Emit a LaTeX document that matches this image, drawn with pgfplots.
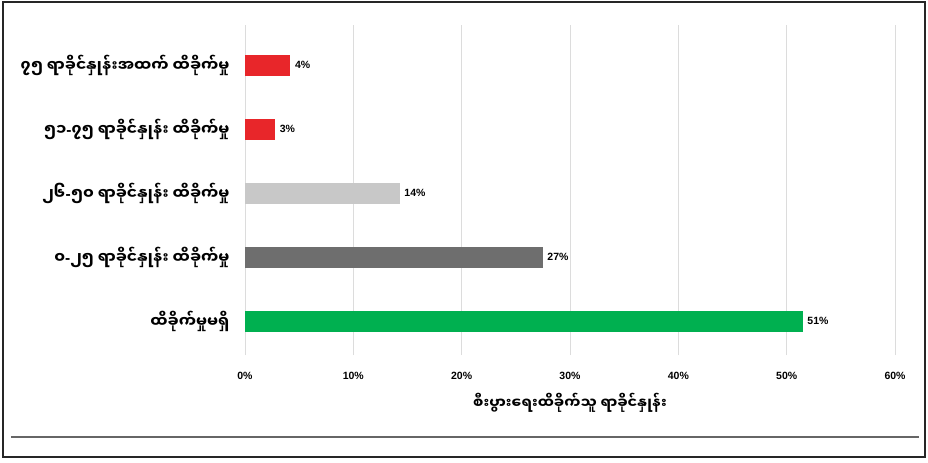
\documentclass[border=0pt]{standalone}
\usepackage{pgfplots}
\pgfplotsset{compat=1.18}
\usepackage{fontspec}
\setmainfont{Liberation Sans}
\newfontfamily\mm[Script=Myanmar]{Noto Sans Myanmar UI}
\newcommand{\hy}{{\fontspec{Liberation Sans}\bfseries -}}
\definecolor{cred}{HTML}{E8262A}
\definecolor{clgray}{HTML}{C8C8C8}
\definecolor{cdgray}{HTML}{6E6E6E}
\definecolor{cgreen}{HTML}{00B050}
\definecolor{cgrid}{HTML}{DCDCDC}
\begin{document}
\begin{tikzpicture}
\begin{axis}[
  scale only axis,
  width=650pt, height=330pt,
  xmin=0, xmax=60, ymin=-0.53, ymax=4.625,
  xbar, bar width=21pt, bar shift=0pt,
  xtick={0,10,...,60},
  xticklabel={\pgfmathprintnumber{\tick}\%},
  /pgf/number format/assume math mode=true,
  xticklabel style={font=\fontsize{10.5}{12}\selectfont\bfseries, yshift=-14pt},
  ytick={0,1,2,3,4},
  yticklabels={ထိခိုက်မှုမရှိ, ၀\hy၂၅ ရာခိုင်နှုန်း ထိခိုက်မှု, ၂၆\hy၅၀ ရာခိုင်နှုန်း ထိခိုက်မှု, ၅၁\hy၇၅ ရာခိုင်နှုန်း ထိခိုက်မှု, ၇၅ ရာခိုင်နှုန်းအထက် ထိခိုက်မှု},
  yticklabel style={font=\mm\bfseries\fontsize{15.5}{17}\selectfont, xshift=-12pt},
  xlabel={\mm\bfseries\fontsize{14.5}{16}\selectfont စီးပွားရေးထိခိုက်သူ ရာခိုင်နှုန်း},
  xlabel style={yshift=-6pt},
  major tick length=0pt,
  axis line style={draw=none},
  xmajorgrids, grid style={cgrid, line width=0.8pt},
  point meta=explicit,
  nodes near coords={\pgfmathprintnumber{\pgfplotspointmeta}\%},
  nodes near coords style={font=\fontsize{10.5}{12}\selectfont\bfseries, anchor=west, xshift=1pt},
  clip=false,
]
\addplot[fill=cgreen, draw=none] coordinates {(51.5,0) [51]};
\addplot[fill=cdgray, draw=none] coordinates {(27.5,1) [27]};
\addplot[fill=clgray, draw=none] coordinates {(14.3,2) [14]};
\addplot[fill=cred, draw=none] coordinates {(2.8,3) [3]};
\addplot[fill=cred, draw=none] coordinates {(4.2,4) [4]};
\path (axis cs:-22.615,5.0156) rectangle (axis cs:63.046,-2.203);
\draw[line width=2pt, black!85] (axis cs:-22.34,4.984) rectangle (axis cs:62.77,-2.125);
\draw[line width=1.5pt, black!60] (axis cs:-21.6,-1.8125) -- (axis cs:62.2,-1.8125);
\end{axis}
\end{tikzpicture}
\end{document}
